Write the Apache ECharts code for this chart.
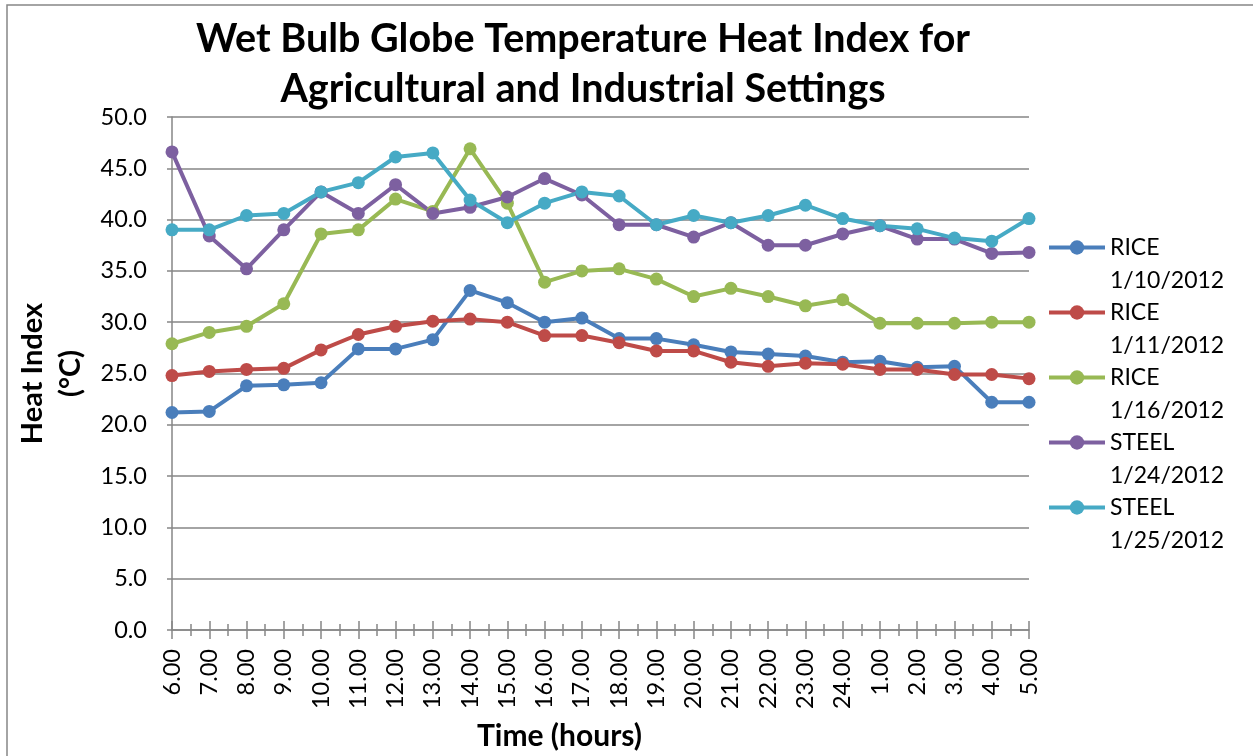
<!DOCTYPE html>
<html>
<head>
<meta charset="utf-8">
<script src="https://cdn.jsdelivr.net/npm/echarts@6/dist/echarts.min.js"></script>
<style>
html,body{margin:0;padding:0;background:#fff;}
#chart{width:1253px;height:756px;}
</style>
</head>
<body>
<div id="chart"></div>
<script>
const titleText = 'Wet Bulb Globe Temperature Heat Index for\nAgricultural and Industrial Settings';
const categories = ['6.00','7.00','8.00','9.00','10.00','11.00','12.00','13.00','14.00','15.00','16.00','17.00','18.00','19.00','20.00','21.00','22.00','23.00','24.00','1.00','2.00','3.00','4.00','5.00'];
const seriesNames = ['RICE 1/10/2012','RICE 1/11/2012','RICE 1/16/2012','STEEL 1/24/2012','STEEL 1/25/2012'];
const rice0110 = [21.2,21.3,23.8,23.9,24.1,27.4,27.4,28.3,33.1,31.9,30.0,30.4,28.4,28.4,27.8,27.1,26.9,26.7,26.1,26.2,25.6,25.7,22.2,22.2];
const rice0111 = [24.8,25.2,25.4,25.5,27.3,28.8,29.6,30.1,30.3,30.0,28.7,28.7,28.0,27.2,27.2,26.1,25.7,26.0,25.9,25.4,25.4,24.9,24.9,24.5];
const rice0116 = [27.9,29.0,29.6,31.8,38.6,39.0,42.0,40.8,46.9,41.6,33.9,35.0,35.2,34.2,32.5,33.3,32.5,31.6,32.2,29.9,29.9,29.9,30.0,30.0];
const steel0124 = [46.6,38.4,35.2,39.0,42.7,40.6,43.4,40.6,41.2,42.2,44.0,42.4,39.5,39.5,38.3,39.7,37.5,37.5,38.6,39.4,38.1,38.1,36.7,36.8];
const steel0125 = [39.0,39.0,40.4,40.6,42.7,43.6,46.1,46.5,41.9,39.7,41.6,42.7,42.3,39.5,40.4,39.7,40.4,41.4,40.1,39.4,39.1,38.2,37.9,40.1];
const yMin = 0, yMax = 50, yStep = 5;
const colors = ['#4A7EBB','#BE4B48','#98B954','#7D60A0','#46AAC5'];
const allValues = [rice0110, rice0111, rice0116, steel0124, steel0125];

const FONT = 'Lato';
const GRAY = '#868686';
const chart = echarts.init(document.getElementById('chart'));

const mkSeries = (i) => ({
  name: seriesNames[i],
  type: 'line',
  data: allValues[i],
  xAxisIndex: 0,
  symbol: 'circle',
  symbolSize: 13,
  lineStyle: {width: 4, color: colors[i]},
  itemStyle: {color: colors[i]},
  emphasis: {disabled: true},
  animation: false
});

const tickAxis = (data, boundaryGap, inside, len, align) => ({
  type: 'category', data: data, boundaryGap: boundaryGap, position: 'bottom',
  axisLine: {show: false}, axisLabel: {show: false}, splitLine: {show: false},
  axisTick: {show: true, inside: inside, length: len, interval: 0, alignWithLabel: align, lineStyle: {color: GRAY, width: 1.5}}
});

chart.setOption({
  animation: false,
  color: colors,
  textStyle: {fontFamily: FONT},
  graphic: [{type: 'rect', shape: {x: 7, y: 5, width: 1300, height: 800}, style: {fill: 'none', stroke: GRAY, lineWidth: 1.5}, silent: true}],
  title: {
    text: titleText, left: 578, top: 9, textAlign: 'center',
    textStyle: {fontFamily: FONT, fontWeight: 'bold', fontSize: 39.5, lineHeight: 50, color: '#000'}
  },
  grid: {left: 172, top: 117, width: 857, height: 514, containLabel: false},
  legend: {
    orient: 'vertical', left: 1042, top: 193, itemWidth: 56, itemHeight: 18, itemGap: -34,
    data: seriesNames,
    formatter: (n) => '\n' + n.replace(' ', '\n'),
    lineStyle: {width: 4},
    textStyle: {fontFamily: FONT, fontSize: 23, color: '#000', lineHeight: 33}
  },
  xAxis: [
    {
      type: 'category', data: categories, boundaryGap: false, position: 'bottom',
      axisLine: {show: true, lineStyle: {color: GRAY, width: 1.5}},
      axisTick: {show: true, length: 9, interval: 0, lineStyle: {color: GRAY, width: 1.5}},
      axisLabel: {rotate: 90, interval: 0, margin: 19, fontSize: 23.5, color: '#000', fontFamily: FONT},
      splitLine: {show: false},
      name: 'Time (hours)', nameLocation: 'middle', nameGap: 91,
      nameTextStyle: {fontFamily: FONT, fontWeight: 'bold', fontSize: 30, color: '#000', padding: [0, 82, 0, 0]}
    },
    tickAxis(categories, false, true, 9, false),
    tickAxis(categories.slice(1), true, false, 6, true),
    tickAxis(categories.slice(1), true, true, 6, true)
  ],
  yAxis: {
    type: 'value', min: yMin, max: yMax, interval: yStep,
    axisLine: {show: true, lineStyle: {color: GRAY, width: 1.5}},
    axisTick: {show: true, length: 5, lineStyle: {color: GRAY, width: 1.5}},
    axisLabel: {formatter: (v) => v.toFixed(1), fontSize: 23.5, color: '#000', margin: 25, fontFamily: FONT},
    splitLine: {show: true, lineStyle: {color: GRAY, width: 1.5}},
    name: 'Heat Index\n(°C)', nameLocation: 'middle', nameRotate: 90, nameGap: 75,
    nameTextStyle: {fontFamily: FONT, fontWeight: 'bold', fontSize: 29, lineHeight: 38, color: '#000'}
  },
  series: [0,1,2,3,4].map(mkSeries)
});
</script>
</body>
</html>
